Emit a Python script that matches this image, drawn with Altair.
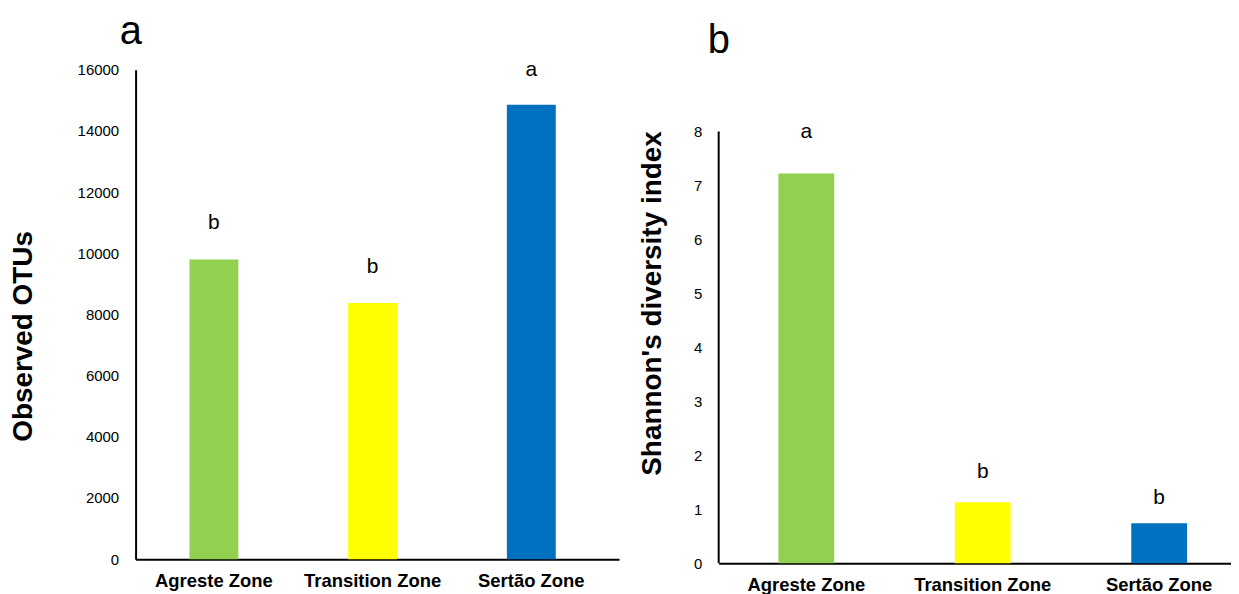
import altair as alt
import pandas as pd

# ---- data ----
zones = ["Agreste Zone", "Transition Zone", "Sertão Zone"]
bar_colors = ["#92D050", "#FFFF00", "#0070C0"]

otus = [9800, 8375, 14860]
otus_letters = ["b", "b", "a"]
otus_letter_y = [11000, 9550, 16000]
otus_ticks = [0, 2000, 4000, 6000, 8000, 10000, 12000, 14000, 16000]

shannon = [7.22, 1.13, 0.74]
shannon_letters = ["a", "b", "b"]
shannon_letter_y = [8.0, 1.68, 1.20]
shannon_ticks = [0, 1, 2, 3, 4, 5, 6, 7, 8]
shannon_axis_top = 8
shannon_view_top = 9.145

FONT = "Liberation Sans"

df_a = pd.DataFrame({"zone": zones, "value": otus, "letter": otus_letters,
                     "ly": otus_letter_y, "color": bar_colors})
df_b = pd.DataFrame({"zone": zones, "value": shannon, "letter": shannon_letters,
                     "ly": shannon_letter_y, "color": bar_colors})


def panel(df, ytitle, ydomain, yticks, W, H, pi, po, align, label_pad,
          title_x, title_y, panel_letter, letter_dx, letter_dy, show_domain):
    xenc = alt.X("zone:N", sort=zones, title=None,
                 scale=alt.Scale(paddingInner=pi, paddingOuter=po, align=align),
                 axis=alt.Axis(labelAngle=0, labelFont=FONT, labelFontSize=18.5,
                               labelFontWeight="bold", labelColor="black",
                               ticks=False, domainColor="black", domainWidth=2,
                               labelPadding=label_pad))
    yaxis = alt.Axis(values=yticks, format="d", grid=False, ticks=False, labelFont=FONT,
                     labelFontSize=15, labelColor="black", labelPadding=17,
                     domain=show_domain, domainColor="black", domainWidth=2,
                     titleFont=FONT, titleFontSize=28, titleFontWeight="bold",
                     titleColor="black", titleX=title_x, titleY=title_y,
                     titleAlign="center", titleBaseline="middle")
    yscale = alt.Scale(domain=ydomain, nice=False, zero=True)
    base = alt.Chart(df)
    bars = base.mark_bar().encode(
        x=xenc,
        y=alt.Y("value:Q", title=ytitle, scale=yscale, axis=yaxis),
        color=alt.Color("color:N", scale=None),
    )
    text = base.mark_text(font=FONT, fontSize=21, baseline="middle", color="black").encode(
        x=alt.X("zone:N", sort=zones),
        y=alt.Y("ly:Q"),
        text="letter:N",
    )
    layers = [bars, text]
    if not show_domain:
        rule = alt.Chart(pd.DataFrame({"lo": [0], "hi": [shannon_axis_top]})).mark_rule(
            color="black", strokeWidth=2).encode(
            x=alt.value(0), y=alt.Y("lo:Q"), y2="hi:Q")
        layers.append(rule)
    return alt.layer(*layers).properties(
        width=W, height=H,
        title=alt.TitleParams(panel_letter, anchor="start", frame="group",
                              dx=letter_dx, dy=letter_dy, offset=0, fontSize=40,
                              font=FONT, fontWeight="normal", color="black",
                              baseline="alphabetic"),
    )


left = panel(df_a, "Observed OTUs", [0, 16000], otus_ticks, 485, 491,
             0.692, 0.369, 0.46, 12, -112, 267, "a", -16, 25, True)
right = panel(df_b, "Shannon's diversity index", [0, shannon_view_top], shannon_ticks,
              514, 495, 0.684, 0.294, 0.576, 12, -66, 234, "b", -11, 23, False)

chart = alt.hconcat(left, right, spacing=100, bounds="flush").resolve_scale(
    y="independent", x="independent"
).properties(
    padding={"left": 2, "top": 3, "right": 0, "bottom": 0},
    background="white",
).configure_view(stroke=None)

chart.save("out.html", embed_options={"renderer": "svg", "actions": False})
